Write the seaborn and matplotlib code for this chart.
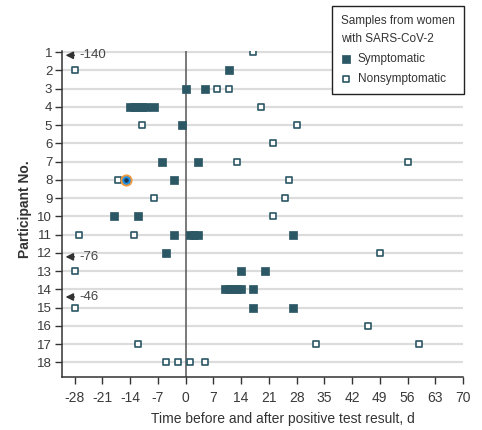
import matplotlib.pyplot as plt
import seaborn as sns
import pandas as pd

# symptomatic samples (participant, day relative to positive test)
sym_participant = [2, 3, 3, 4, 4, 4, 4, 4, 4, 5, 7, 7, 8, 8, 10, 10,
                   11, 11, 11, 11, 11, 12, 13, 13, 14, 14, 14, 14, 14, 14, 15, 15]
sym_day = [11, 0, 5, -14, -13, -12, -11, -10, -8, -1, -6, 3, -15, -3, -18, -12,
           -3, 1, 2, 3, 27, -5, 14, 20, 10, 11, 12, 13, 14, 17, 17, 27]

# nonsymptomatic samples
non_participant = [1, 2, 3, 3, 4, 5, 5, 6, 7, 7, 8, 8, 9, 9, 10, 11, 11,
                   12, 13, 15, 16, 17, 17, 17, 18, 18, 18, 18]
non_day = [17, -28, 8, 11, 19, -11, 28, 22, 13, 56, -17, 26, -8, 25, 22, -27, -13,
           49, -28, -28, 46, -12, 33, 59, -5, -2, 1, 5]

# samples off the left edge of the axis
off_participant = [1, 12, 14]
off_day = [-140, -76, -46]
off_row_shift = [0.18, 0.22, 0.42]

participants = list(range(1, 19))
xticks = list(range(-28, 71, 7))

dark = '#2c5765'

sym = pd.DataFrame({'Participant': sym_participant, 'Day': sym_day})
non = pd.DataFrame({'Participant': non_participant, 'Day': non_day})

sns.set_style('white')
plt.rcParams['font.family'] = ['Liberation Sans', 'DejaVu Sans']
plt.rcParams['axes.unicode_minus'] = False

fig = plt.figure(figsize=(4.82, 4.30), dpi=100)
ax = fig.add_axes([0.1286, 0.1233, 0.832, 0.7587])

for p in participants:
    ax.axhline(p, color='#dcdcdc', lw=1.6, zorder=0)
ax.axvline(0, color='#555555', lw=1.1, zorder=1)

sns.scatterplot(data=sym, x='Day', y='Participant', marker='s', s=28,
                color=dark, edgecolor=dark, linewidth=0.5, label='Symptomatic', zorder=3, ax=ax)
sns.scatterplot(data=non, x='Day', y='Participant', marker='s', s=24,
                facecolor='white', edgecolor=dark, linewidth=1.2, label='Nonsymptomatic', zorder=3, ax=ax)

# highlighted sample (participant 8, day -15)
ax.scatter([-15], [8], s=55, color='#1f8fe0', edgecolor='#f39a3a', linewidth=1.3, zorder=4)
ax.scatter([-15], [8], s=5, color='#1b3a55', zorder=5)

for p, d, sh in zip(off_participant, off_day, off_row_shift):
    ax.annotate('', xy=(-31.0, p + sh), xytext=(-27.4, p + sh),
                arrowprops=dict(arrowstyle='-|>', color='#333333', lw=1.1, mutation_scale=11))
    ax.text(-26.8, p + sh, str(d), fontsize=9.5, color='#444444', va='center', ha='left')

ax.set_xlim(-31.2, 70)
ax.set_ylim(18.8, 0.93)
ax.set_xticks(xticks)
ax.set_yticks(participants)
ax.tick_params(axis='both', direction='out', length=5, width=1, color='#333333',
               labelcolor='#3a3a3a', left=True, bottom=True)
ax.tick_params(axis='x', pad=5, labelsize=10)
ax.tick_params(axis='y', pad=2, labelsize=9.5)

sns.despine(ax=ax)
for side in ['left', 'bottom']:
    ax.spines[side].set_color('#333333')
    ax.spines[side].set_linewidth(1.1)

ax.set_xlabel('Time before and after positive test result, d', fontsize=10, color='#333333')
ax.xaxis.set_label_coords(0.551, -0.108)
ax.set_ylabel('Participant No.', fontsize=10, color='#333333', fontweight='bold')
ax.yaxis.set_label_coords(-0.074, 0.515)

leg = ax.legend(title='Samples from women\nwith SARS-CoV-2', loc='upper left',
                bbox_to_anchor=(331.7 / 482, 1 - 5.7 / 430), bbox_transform=fig.transFigure,
                borderaxespad=0, fontsize=8.5, title_fontsize=8.5, frameon=True, fancybox=False,
                framealpha=1, edgecolor='#222222', handletextpad=0.5, borderpad=0.8,
                labelspacing=0.65, handlelength=0.9, markerscale=1.0)
leg._legend_box.align = 'left'
leg.get_title().set_linespacing(1.7)
leg.get_frame().set_linewidth(1.0)
for t in leg.get_texts():
    t.set_color('#333333')
leg.get_title().set_color('#333333')

fig.savefig('out.png', dpi=100)
